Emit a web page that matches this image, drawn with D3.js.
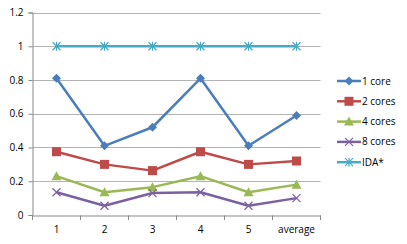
<!DOCTYPE html>
<html><head><meta charset="utf-8">
<script src="https://cdn.jsdelivr.net/npm/d3@7"></script>
<style>body{margin:0;background:#fff}svg{display:block}text{font-family:"Open Sans","Liberation Sans",sans-serif;font-size:10px;fill:#000}</style>
</head><body><svg id="c" width="407" height="244"></svg>
<script>
const categories = ["1","2","3","4","5","average"];
const seriesNames = ["1 core","2 cores","4 cores","8 cores","IDA*"];
const core1 = [0.81,0.41,0.52,0.81,0.41,0.59];
const cores2 = [0.375,0.30,0.263,0.375,0.30,0.32];
const cores4 = [0.23,0.135,0.165,0.23,0.135,0.18];
const cores8 = [0.135,0.055,0.13,0.135,0.055,0.10];
const ida = [1,1,1,1,1,1];
const yTicks = [0,0.2,0.4,0.6,0.8,1,1.2];
const colors = ["#4A7EBB","#BE4B48","#98B954","#7D60A0","#46AAC5"];
const markers = ["diamond","square","triangle","x","star"];
const values = [core1,cores2,cores4,cores8,ida];

const svg = d3.select("#c");
const x = d3.scaleBand().domain(categories).range([32.5,320.5]);
const y = d3.scaleLinear().domain([0,1.2]).range([215,12.5]);

// gridlines
svg.append("g").selectAll("line").data(yTicks.filter(d=>d>0)).join("line")
  .attr("x1",32.5).attr("x2",320.5).attr("y1",d=>Math.round(y(d))+0.5).attr("y2",d=>Math.round(y(d))+0.5)
  .attr("stroke","#B3B3B3").attr("stroke-width",1);

const ya = svg.append("g").attr("transform","translate(32.5,0)")
  .call(d3.axisLeft(y).tickValues(yTicks).tickFormat(d=>String(d)).tickSize(4).tickPadding(5));
ya.select(".domain").attr("stroke","#888");
ya.selectAll(".tick line").attr("stroke","#888");
ya.selectAll("text").style("font-size","10px");

const xa = svg.append("g").attr("transform","translate(0,215.5)")
  .call(d3.axisBottom(x).tickSize(0).tickPadding(10));
xa.select(".domain").attr("stroke","#888");
xa.selectAll("text").style("font-size","10px");
svg.append("g").selectAll("line").data(d3.range(categories.length+1)).join("line")
  .attr("x1",i=>32.5+i*x.step()).attr("x2",i=>32.5+i*x.step())
  .attr("y1",215.5).attr("y2",220).attr("stroke","#888");

function drawMarker(g, type, color, cx, cy){
  if(type==="diamond") g.append("path").attr("d",`M${cx},${cy-4.5}L${cx+4.5},${cy}L${cx},${cy+4.5}L${cx-4.5},${cy}Z`).attr("fill",color);
  else if(type==="square") g.append("rect").attr("x",cx-4.5).attr("y",cy-4.5).attr("width",9).attr("height",9).attr("fill",color);
  else if(type==="triangle") g.append("path").attr("d",`M${cx},${cy-5}L${cx+5},${cy+4}L${cx-5},${cy+4}Z`).attr("fill",color);
  else if(type==="x") g.append("path").attr("d",`M${cx-4},${cy-4}L${cx+4},${cy+4}M${cx-4},${cy+4}L${cx+4},${cy-4}`).attr("stroke",color).attr("stroke-width",1.2);
  else if(type==="star") g.append("path").attr("d",`M${cx-4},${cy-4}L${cx+4},${cy+4}M${cx-4},${cy+4}L${cx+4},${cy-4}M${cx},${cy-4.5}L${cx},${cy+4.5}`).attr("stroke",color).attr("stroke-width",1.2);
}

const line = d3.line().x((d,i)=>x(categories[i])+x.bandwidth()/2).y(d=>y(d));
values.forEach((vals,s)=>{
  const g = svg.append("g");
  g.append("path").datum(vals).attr("d",line).attr("fill","none").attr("stroke",colors[s]).attr("stroke-width",2.5).attr("stroke-linejoin","round");
  vals.forEach((v,i)=>drawMarker(g,markers[s],colors[s],x(categories[i])+x.bandwidth()/2,y(v)));
});

// legend
const lg = svg.append("g");
seriesNames.forEach((n,s)=>{
  const ly = 81 + s*20.3;
  lg.append("line").attr("x1",337).attr("x2",361).attr("y1",ly).attr("y2",ly).attr("stroke",colors[s]).attr("stroke-width",2.5);
  drawMarker(lg,markers[s],colors[s],349,ly);
  lg.append("text").attr("x",362).attr("y",ly+3.5).text(n);
});
</script></body></html>
